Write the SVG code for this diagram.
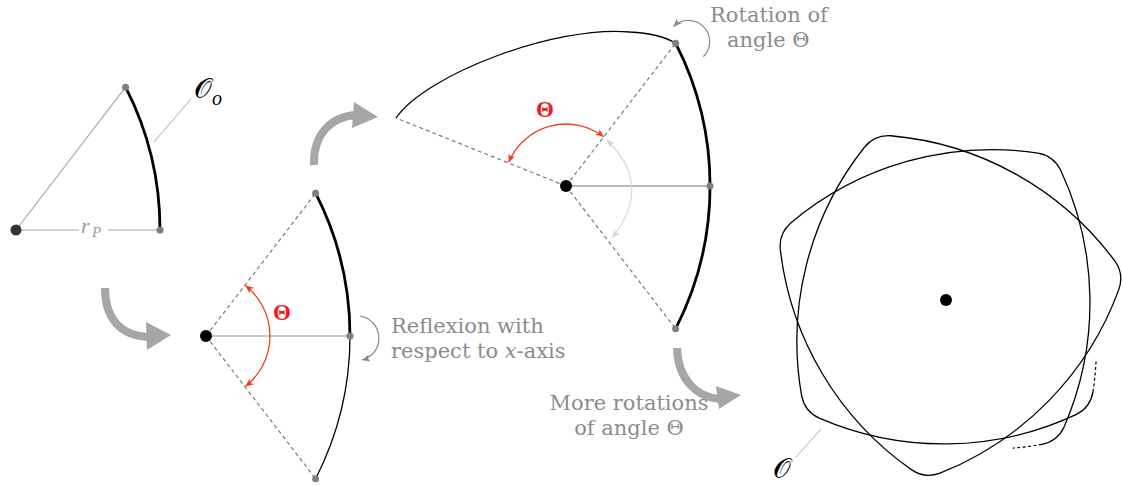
<svg xmlns="http://www.w3.org/2000/svg" width="1123" height="486" viewBox="0 0 1123 486">
<defs>
<style>
.dash{stroke:#7a7a7a;stroke-width:1.2;stroke-dasharray:4 3;fill:none}
.thick{stroke:#000;stroke-width:2.8;fill:none;stroke-linejoin:round}
.thin{stroke:#000;stroke-width:1.3;fill:none;stroke-linejoin:round}
.gdot{fill:#7f7f7f}
.lbl{font-family:"DejaVu Serif","Liberation Serif",serif;font-size:21px;fill:#8c8c8c}
.theta{font-family:"Liberation Serif","Times New Roman",serif;font-size:23px;font-weight:bold;fill:#ee1c1c}
.cal{font-family:"DejaVu Serif","DejaVu Sans","Noto Sans",serif;font-size:28px;fill:#000}
.big{fill:none;stroke:#a6a6a6;stroke-width:8}
.bighead{fill:#a6a6a6}
.lead{stroke:#aaaaaa;stroke-width:1;fill:none}
</style>
<marker id="ag" markerUnits="userSpaceOnUse" markerWidth="9" markerHeight="8" refX="8" refY="4" orient="auto-start-reverse"><path d="M0,0.5 L8,4 L0,7.5 L2,4 Z" fill="#888"/></marker>
<marker id="ar" markerUnits="userSpaceOnUse" markerWidth="9" markerHeight="8" refX="8" refY="4" orient="auto-start-reverse"><path d="M0,0.5 L8,4 L0,7.5 L2,4 Z" fill="#f0401a"/></marker>
<marker id="al" markerUnits="userSpaceOnUse" markerWidth="9" markerHeight="8" refX="8" refY="4" orient="auto-start-reverse"><path d="M0,0.5 L8,4 L0,7.5 L2,4 Z" fill="#d4d4d4"/></marker>
<path id="half" d="M144,0 A313,313 0 0 0 109.58,-142.8"/>
<path id="full" d="M109.58,142.8 A313,313 0 0 0 109.58,-142.8"/>
<path id="unit" d="M93.85,-145.67 Q109.58,-142.8 116.42,-128.36 A313,313 0 0 1 116.42,128.36"/>
</defs>
<rect width="1123" height="486" fill="#fff"/>

<g id="fig1">
<line x1="16" y1="230" x2="125.6" y2="87.2" stroke="#a8a8a8" stroke-width="1.2"/>
<line x1="16" y1="230" x2="79" y2="230" stroke="#a8a8a8" stroke-width="1.2"/>
<line x1="108" y1="230" x2="160" y2="230" stroke="#a8a8a8" stroke-width="1.2"/>
<use href="#half" class="thick" transform="translate(16,230)"/>
<line class="lead" x1="154" y1="142" x2="191" y2="99"/>
<circle cx="16" cy="230" r="5.5" fill="#333"/>
<circle class="gdot" cx="125.6" cy="87.2" r="3.5"/>
<circle class="gdot" cx="160" cy="230" r="3.5"/>
<text x="81" y="233" font-family="Liberation Serif, serif" font-style="italic" font-size="22" fill="#9a9a9a">r</text>
<text x="92" y="237" font-family="Liberation Serif, serif" font-style="italic" font-size="15" fill="#9a9a9a">P</text>
<text class="cal" x="194" y="98">𝒪</text>
<text x="212" y="105" font-family="Liberation Serif, serif" font-style="italic" font-size="20" fill="#000">o</text>
</g>

<g id="fig2">
<line class="dash" x1="206" y1="336" x2="315.6" y2="193.2"/>
<line class="dash" x1="206" y1="336" x2="315.6" y2="478.8"/>
<line x1="206" y1="336" x2="350" y2="336" stroke="#909090" stroke-width="1.2"/>
<use href="#half" class="thick" transform="translate(206,336)"/>
<use href="#half" class="thin" transform="translate(206,336) scale(1,-1)"/>
<path d="M245.4,285.6 A64,64 0 0 1 245.4,386.4" fill="none" stroke="#f0401a" stroke-width="1.3" marker-start="url(#ar)" marker-end="url(#ar)"/>
<text class="theta" x="282" y="320" text-anchor="middle">Θ</text>
<circle cx="206" cy="336" r="6" fill="#000"/>
<circle class="gdot" cx="315.6" cy="193.2" r="3.5"/>
<circle class="gdot" cx="315.6" cy="478.8" r="3.5"/>
<circle class="gdot" cx="350" cy="336" r="3.5"/>
<path d="M360,316 A22.5,22.5 0 0 1 362,360" fill="none" stroke="#888" stroke-width="1.2" marker-end="url(#ag)"/>
<text class="lbl" x="391" y="333">Reflexion with</text>
<text class="lbl" x="391" y="358">respect to <tspan font-style="italic">x</tspan>-axis</text>
</g>

<g id="fig3">
<line class="dash" x1="566" y1="186" x2="675.6" y2="43.2"/>
<line class="dash" x1="566" y1="186" x2="675.6" y2="328.8"/>
<line class="dash" x1="566" y1="186" x2="396" y2="118"/>
<line x1="566" y1="186" x2="710" y2="186" stroke="#b8b8b8" stroke-width="2"/>
<use href="#full" class="thick" transform="translate(566,186)"/>
<path class="thin" d="M396,118 C425,75 555,25 630,32 C652,33 667,38 675.6,43.2"/>
<path d="M603.7,136.8 A62,62 0 0 0 508.7,162.3" fill="none" stroke="#f0401a" stroke-width="1.3" marker-start="url(#ar)" marker-end="url(#ar)"/>
<path d="M606.7,140 Q653.9,184.6 612.3,237.7" fill="none" stroke="#d8d8d8" stroke-width="1.2" marker-start="url(#al)" marker-end="url(#al)"/>
<text class="theta" x="545" y="117" text-anchor="middle">Θ</text>
<circle cx="566" cy="186" r="6" fill="#000"/>
<circle class="gdot" cx="675.6" cy="43.2" r="3.5"/>
<circle class="gdot" cx="675.6" cy="328.8" r="3.5"/>
<circle class="gdot" cx="710" cy="186" r="3.5"/>
<path d="M703.3,56.7 A21,21 0 1 0 673.5,26.5" fill="none" stroke="#888" stroke-width="1.2" marker-end="url(#ag)"/>
<text class="lbl" x="710" y="22">Rotation of</text>
<text class="lbl" x="727" y="47">angle Θ</text>
</g>

<g id="fig4">
<g class="thin" transform="translate(946,300)">
<use href="#unit" transform="rotate(89.2)"/>
<use href="#unit" transform="rotate(194.2)"/>
<use href="#unit" transform="rotate(299.2)"/>
<use href="#unit" transform="rotate(44.2)"/>
<use href="#unit" transform="rotate(149.2)"/>
<use href="#unit" transform="rotate(254.2)"/>
<use href="#unit" transform="rotate(359.2)"/>
<path transform="rotate(104.2)" d="M93.85,-145.67 Q109.58,-142.8 116.42,-128.36"/>
</g>
<path transform="translate(946,300) rotate(-15.8)" d="M116.42,128.36 A313,313 0 0 0 128.2,98.3" fill="none" stroke="#000" stroke-width="1.2" stroke-dasharray="3 2.5"/>
<path transform="translate(946,300) rotate(104.2)" d="M116.42,-128.36 A313,313 0 0 1 127.2,-101.1" fill="none" stroke="#000" stroke-width="1.2" stroke-dasharray="3 2.5"/>
<circle cx="946" cy="300" r="6" fill="#000"/>
<line class="lead" x1="821" y1="429" x2="796" y2="457"/>
<text class="cal" x="773" y="478" font-size="27">𝒪</text>
</g>

<g id="connectors">
<path class="big" d="M105,288 C105,318 120,336 149,337"/>
<polygon class="bighead" points="146,322 171,335 147,350"/>
<path class="big" d="M314,165 C313,135 330,117 356,115"/>
<polygon class="bighead" points="354,102 378,117 352,128"/>
<path class="big" d="M677,348 C678,378 695,397 720,399"/>
<polygon class="bighead" points="716,386 741,395 719,409"/>
<text class="lbl" x="629" y="410" text-anchor="middle">More rotations</text>
<text class="lbl" x="629" y="435" text-anchor="middle">of angle Θ</text>
</g>
</svg>
